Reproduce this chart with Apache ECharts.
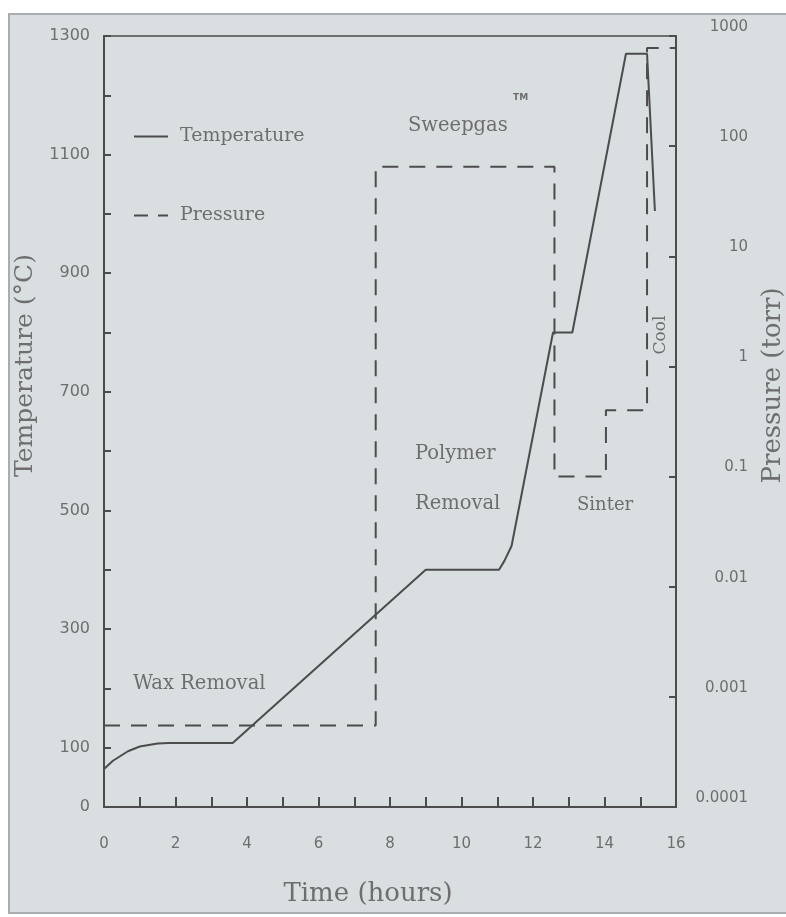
<!DOCTYPE html>
<html>
<head>
<meta charset="utf-8">
<script src="https://cdn.jsdelivr.net/npm/echarts@6/dist/echarts.min.js"></script>
<style>
html,body{margin:0;padding:0;background:#fff;}
#chart{width:786px;height:917px;}
</style>
</head>
<body>
<div id="chart"></div>
<script>
// Temperature profile (time in hours, temperature in °C)
const tempTime = [0, 0.25, 0.67, 1.0, 1.5, 1.8, 3.6, 9.0, 11.05, 11.2, 11.4, 12.56, 13.1, 14.6, 15.19, 15.41];
const tempValues = [64, 78, 94, 102, 107, 108, 108, 400, 400, 415, 440, 800, 800, 1270, 1270, 1005];
// Pressure profile (time in hours, pressure in torr)
const pressTime = [0, 7.6, 7.6, 12.6, 12.6, 14.04, 14.04, 15.19, 15.19, 16];
const pressValues = [0.00055, 0.00055, 65, 65, 0.1, 0.1, 0.4, 0.4, 780, 780];
// Axis tick labels
const timeTickLabels = [0, 2, 4, 6, 8, 10, 12, 14, 16];
const tempTickLabels = [0, 100, 300, 500, 700, 900, 1100, 1300];
const pressTickLabels = ['0.0001', '0.001', '0.01', '0.1', '1', '10', '100', '1000'];

const FONT = 'DejaVu Serif';
const TXT = '#6e6e6e';
const LINE = '#4c4c4c';

const chart = echarts.init(document.getElementById('chart'));
const zip = (a, b) => a.map((v, i) => [v, b[i]]);

chart.setOption({
  backgroundColor: '#ffffff',
  animation: false,
  graphic: [
    { type: 'rect', z: -10, shape: { x: 9, y: 14, width: 779, height: 899 },
      style: { fill: '#d9dee1', stroke: '#a9adb0', lineWidth: 2 } },
    { type: 'text', left: 408, top: 116, style: { text: 'Sweepgas', font: '19.5px "DejaVu Serif"', fill: TXT } },
    { type: 'text', left: 513, top: 93, style: { text: 'TM', font: 'bold 9px "DejaVu Sans"', fill: TXT } },
    { type: 'text', left: 415, top: 444, style: { text: 'Polymer', font: '19.5px "DejaVu Serif"', fill: TXT } },
    { type: 'text', left: 415, top: 494, style: { text: 'Removal', font: '19.5px "DejaVu Serif"', fill: TXT } },
    { type: 'text', left: 577, top: 496, style: { text: 'Sinter', font: '18px "DejaVu Serif"', fill: TXT } },
    { type: 'text', left: 133, top: 674, style: { text: 'Wax Removal', font: '19.5px "DejaVu Serif"', fill: TXT } },
    { type: 'text', x: 661, y: 335, rotation: Math.PI / 2,
      style: { text: 'Cool', font: '17px "DejaVu Serif"', fill: TXT, align: 'center', verticalAlign: 'middle' } }
  ],
  legend: {
    orient: 'vertical',
    left: 134,
    top: 127,
    padding: 0,
    itemWidth: 34,
    itemHeight: 2,
    itemGap: 60,
    textStyle: { fontFamily: FONT, fontSize: 19, color: TXT, padding: [0, 0, 8, 7] },
    data: [
      { name: 'Temperature', icon: 'path://M0,0h34v2h-34z', itemStyle: { color: LINE } },
      { name: 'Pressure', icon: 'path://M0,0h14v2h-14z M24,0h10v2h-10z', itemStyle: { color: LINE } }
    ]
  },
  grid: {
    left: 104, width: 572, top: 36, height: 771,
    outerBoundsMode: 'none', containLabel: false,
    show: true, borderColor: LINE, borderWidth: 1.5, backgroundColor: 'transparent'
  },
  xAxis: {
    type: 'value', min: 0, max: 16, interval: 1,
    name: 'Time (hours)', nameLocation: 'middle', nameGap: 74,
    nameTextStyle: { fontFamily: FONT, fontSize: 26, color: TXT, padding: [0, 44, 0, 0] },
    axisLine: { lineStyle: { color: LINE, width: 2 } },
    axisTick: { inside: true, length: 10, lineStyle: { color: LINE, width: 2 } },
    axisLabel: {
      margin: 30, fontFamily: 'DejaVu Sans', fontSize: 15, color: TXT,
      formatter: v => (timeTickLabels.indexOf(v) >= 0 ? String(v) : '')
    },
    splitLine: { show: false }
  },
  yAxis: [
    {
      type: 'value', min: 0, max: 1300, interval: 100, position: 'left',
      name: 'Temperature (°C)', nameLocation: 'middle', nameGap: 58,
      nameTextStyle: { fontFamily: FONT, fontSize: 25, color: TXT, padding: [0, 0, 0, 112] },
      axisLine: { show: true, lineStyle: { color: LINE, width: 2 } },
      axisTick: { inside: true, length: 7, lineStyle: { color: LINE, width: 2 } },
      axisLabel: {
        margin: 14, fontFamily: 'DejaVu Sans', fontSize: 16, color: TXT,
        formatter: v => (tempTickLabels.indexOf(v) >= 0 ? String(v) : '')
      },
      splitLine: { show: false }
    },
    {
      type: 'log', logBase: 10, min: 0.0001, max: 1000, position: 'right',
      name: 'Pressure (torr)', nameLocation: 'middle', nameGap: 84, nameRotate: 90,
      nameTextStyle: { fontFamily: FONT, fontSize: 26, color: TXT, padding: [0, 0, 0, 72] },
      axisLine: { show: true, lineStyle: { color: LINE, width: 2 } },
      axisTick: { inside: true, length: 7, lineStyle: { color: LINE, width: 2 } },
      axisLabel: {
        margin: 72, fontFamily: 'DejaVu Sans', fontSize: 15, color: TXT, align: 'right',
        verticalAlign: 'bottom', lineHeight: 18,
        formatter: v => {
          const lg = Math.round(Math.log10(v));
          return pressTickLabels[lg + 4] || '';
        }
      },
      splitLine: { show: false }
    }
  ],
  series: [
    {
      name: 'Temperature', type: 'line', yAxisIndex: 0,
      data: zip(tempTime, tempValues),
      showSymbol: false, symbol: 'none',
      lineStyle: { color: LINE, width: 2 },
      itemStyle: { color: LINE }
    },
    {
      name: 'Pressure', type: 'line', yAxisIndex: 1,
      data: zip(pressTime, pressValues),
      showSymbol: false, symbol: 'none',
      lineStyle: { color: LINE, width: 2, type: [16, 11] },
      itemStyle: { color: LINE }
    }
  ]
});
</script>
</body>
</html>
